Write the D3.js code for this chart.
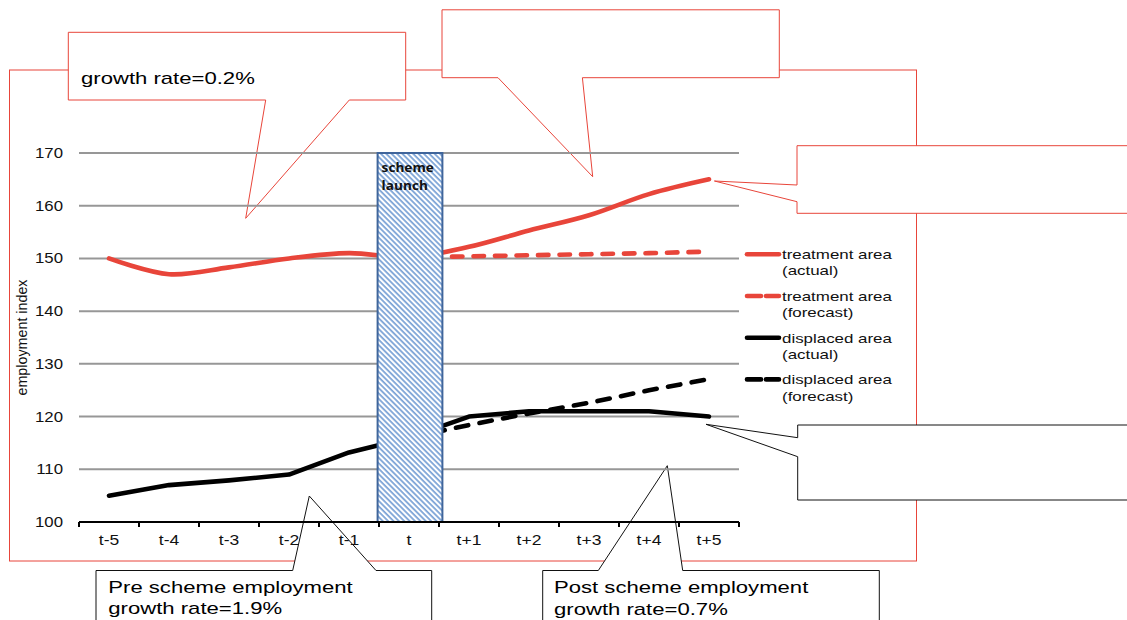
<!DOCTYPE html>
<html><head><meta charset="utf-8">
<script src="https://cdn.jsdelivr.net/npm/d3@7"></script>
<style>body{margin:0;background:#fff} svg{display:block}</style>
</head><body><svg id="c" width="1127" height="620"></svg>
<script>
// ---------- data ----------
const categories = ["t-5","t-4","t-3","t-2","t-1","t","t+1","t+2","t+3","t+4","t+5"];
const yTicks = [100,110,120,130,140,150,160,170];
const treatmentActual   = [150,147,148.3,150,151,150.2,152.2,155.3,158.2,162.2,165];
const treatmentForecast = [null,null,null,null,null,150.2,150.4,150.6,150.8,151,151.3];
const displacedActual   = [105,107,107.9,109,113.2,116,120,121,121,121,120];
const displacedForecast = [null,null,null,null,null,116,118.4,120.6,122.6,125,127.1];
const launchCategory = "t";
const launchValue = 170;
const launchLabel = ["scheme","launch"];
const legendLabels = [["treatment area","(actual)"],["treatment area","(forecast)"],["displaced area","(actual)"],["displaced area","(forecast)"]];
const yTitle = "employment index";
const calloutTop = ["growth rate=0.2%"];
const calloutPre = ["Pre scheme employment","growth rate=1.9%"];
const calloutPost = ["Post scheme employment","growth rate=0.7%"];

// ---------- setup ----------
const svg = d3.select("#c");
const FONT = "'Liberation Sans', Arial, sans-serif";
const RED = "#e8453a";
const x = d3.scaleBand().domain(categories).range([79,739]).padding(0);
const y = d3.scaleLinear().domain([100,170]).range([522,153]);
const cx = c => x(c) + x.bandwidth()/2;
function stretch(sel,k){
  sel.each(function(){
    const w = this.getComputedTextLength();
    this.setAttribute("textLength", (w*k).toFixed(1));
    this.setAttribute("lengthAdjust","spacingAndGlyphs");
  });
  return sel;
}

// hatch pattern
const defs = svg.append("defs");
const pat = defs.append("pattern").attr("id","hatch").attr("patternUnits","userSpaceOnUse")
  .attr("width",3.8).attr("height",3.8).attr("patternTransform","rotate(-45)");
pat.append("rect").attr("width",3.8).attr("height",3.8).attr("fill","#fff");
pat.append("line").attr("x1",1).attr("y1",0).attr("x2",1).attr("y2",3.8)
  .attr("stroke","#5a8ccc").attr("stroke-width",1.4);

// ---------- outer red frame ----------
svg.append("rect").attr("x",9.5).attr("y",70).attr("width",907).attr("height",491)
  .attr("fill","none").attr("stroke",RED).attr("stroke-width",1);

// ---------- callouts (behind plot) ----------
const callouts = [
  {d:"M68.3,32.3 H405.7 V100 H349.3 L245.7,218.3 L265.7,100 H68.3 Z", c:RED},
  {d:"M442,9.8 H779.3 V77.7 H582.4 L592.7,176.7 L498,77.7 H442 Z", c:RED},
  {d:"M797,145.7 H1135 V213.3 H797 V201.7 L714.4,181 L797,185 Z", c:RED},
  {d:"M797.7,425 H1135 V500 H797.7 V456.7 L706,424.3 L797.7,437.7 Z", c:"#111"},
  {d:"M96,570.5 H292.7 L309.3,496 L376,570.5 H431.7 V630 H96 Z", c:"#111"},
  {d:"M542.7,570.5 H598.3 L667.3,465.7 L682.7,570.5 H879.3 V630 H542.7 Z", c:"#111"}
];
svg.append("g").selectAll("path").data(callouts).join("path")
  .attr("d",d=>d.d).attr("fill","#fff").attr("stroke",d=>d.c).attr("stroke-width",1);

function calloutText(lines, x0, y0, lh){
  const t = svg.append("g").selectAll("text").data(lines).join("text")
    .attr("x",x0).attr("y",(d,i)=>y0+i*lh).text(d=>d)
    .attr("font-family",FONT).attr("font-size",17).attr("fill","#000");
  stretch(t,1.3);
}
calloutText(calloutTop, 81, 84, 21);
calloutText(calloutPre, 108.3, 592.7, 21.6);
calloutText(calloutPost, 554, 593.3, 21.6);

// ---------- grid ----------
svg.append("g").selectAll("line").data(yTicks.filter(v=>v>100)).join("line")
  .attr("x1",x.range()[0]).attr("x2",x.range()[1])
  .attr("y1",d=>y(d)).attr("y2",d=>y(d))
  .attr("stroke","#979797").attr("stroke-width",2);

// y tick labels
const yl = svg.append("g").selectAll("text").data(yTicks).join("text")
  .attr("x",63).attr("y",d=>y(d)+5).attr("text-anchor","end")
  .attr("font-family",FONT).attr("font-size",14).attr("fill","#111").text(d=>d);
stretch(yl,1.2);

// y title
svg.append("text").attr("transform",`translate(27,${(y(100)+y(170))/2}) rotate(-90)`)
  .attr("text-anchor","middle").attr("font-family",FONT).attr("font-size",14)
  .attr("textLength",116).attr("lengthAdjust","spacingAndGlyphs")
  .attr("fill","#111").text(yTitle);

// ---------- lines ----------
const pts = arr => arr.map((v,i)=>({c:categories[i],v})).filter(d=>d.v!=null);
const lineLin = d3.line().x(d=>cx(d.c)).y(d=>y(d.v));
const lineSmooth = d3.line().x(d=>cx(d.c)).y(d=>y(d.v)).curve(d3.curveCatmullRom.alpha(0.5));

const series = [
  {data:treatmentActual, gen:lineSmooth, color:RED, dash:null},
  {data:treatmentForecast, gen:lineLin, color:RED, dash:"10.5,11"},
  {data:displacedActual, gen:lineLin, color:"#000", dash:null},
  {data:displacedForecast, gen:lineLin, color:"#000", dash:"12.5,11.5"}
];
svg.append("g").selectAll("path").data(series).join("path")
  .attr("d",d=>d.gen(pts(d.data))).attr("fill","none")
  .attr("stroke",d=>d.color).attr("stroke-width",4.6)
  .attr("stroke-linecap","round").attr("stroke-linejoin","round")
  .attr("stroke-dasharray",d=>d.dash);

// ---------- launch bar ----------
const bw = x.bandwidth()*1.08;
svg.append("rect")
  .attr("x",cx(launchCategory)-bw/2+1).attr("y",y(launchValue))
  .attr("width",bw).attr("height",y(100)-y(launchValue))
  .attr("fill","url(#hatch)").attr("stroke","#3f659b").attr("stroke-width",2);
const ll = svg.append("g").selectAll("text").data(launchLabel).join("text")
  .attr("x",cx(launchCategory)-bw/2+5).attr("y",(d,i)=>172+i*18)
  .attr("font-family","'Open Sans', sans-serif").attr("font-weight","bold")
  .attr("font-size",13).attr("fill","#111").text(d=>d);
stretch(ll,1.05);

// ---------- x axis ----------
svg.append("line").attr("x1",x.range()[0]).attr("x2",x.range()[1])
  .attr("y1",y(100)).attr("y2",y(100)).attr("stroke","#000").attr("stroke-width",2.2);
const bounds = categories.map(c=>x(c)).concat([x.range()[1]]);
svg.append("g").selectAll("line").data(bounds).join("line")
  .attr("x1",d=>d).attr("x2",d=>d).attr("y1",y(100)).attr("y2",y(100)+5)
  .attr("stroke","#000").attr("stroke-width",2);
const xl = svg.append("g").selectAll("text").data(categories).join("text")
  .attr("x",d=>cx(d)).attr("y",545).attr("text-anchor","middle")
  .attr("font-family",FONT).attr("font-size",14).attr("fill","#111").text(d=>d);
stretch(xl,1.25);

// ---------- legend ----------
const leg = svg.append("g").selectAll("g").data(legendLabels).join("g")
  .attr("transform",(d,i)=>`translate(745,${254.3+i*41.7})`);
leg.append("line").attr("x1",2).attr("x2",34).attr("y1",0).attr("y2",0)
  .attr("stroke",(d,i)=>i<2?RED:"#000").attr("stroke-width",4.6)
  .attr("stroke-linecap","round")
  .attr("stroke-dasharray",(d,i)=>i%2===1?"14,5":null);
leg.each(function(d){
  const g = d3.select(this);
  const t = g.selectAll("text").data(d).join("text")
    .attr("x",37).attr("y",(s,j)=>5+j*16.2)
    .attr("font-family",FONT).attr("font-size",13).attr("fill","#111").text(s=>s);
  stretch(t,1.3);
});
</script></body></html>
